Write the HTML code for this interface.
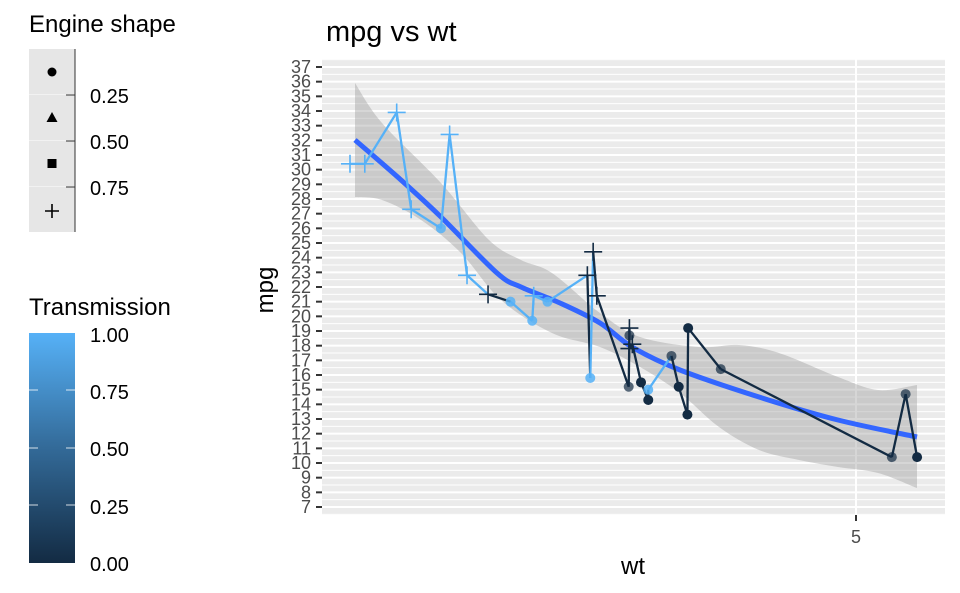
<!DOCTYPE html>
<html><head><meta charset="utf-8"><style>
html,body{margin:0;padding:0;background:#fff;}
svg{display:block;font-family:"Liberation Sans",Arial,sans-serif;}
</style></head><body>
<svg id="s" width="960" height="593" viewBox="0 0 960 593" xmlns="http://www.w3.org/2000/svg">
<defs>
<linearGradient id="cb" x1="0" y1="1" x2="0" y2="0">
<stop offset="0" stop-color="#132B43"/><stop offset="0.5" stop-color="#336A98"/><stop offset="1" stop-color="#56B1F7"/>
</linearGradient>
</defs>
<rect x="322" y="59" width="623" height="456" fill="#EBEBEB"/>
<g id="grid"></g>
<path id="rib" fill="#999" fill-opacity="0.4"/>
<path id="smo" fill="none" stroke="#3366FF" stroke-width="5"/>
<g id="marks"></g>
<g font-size="18" fill="#4D4D4D" text-anchor="end">
<text x="311" y="73">37</text><text x="311" y="87.7">36</text><text x="311" y="102.3">35</text><text x="311" y="117">34</text><text x="311" y="131.7">33</text><text x="311" y="146.3">32</text><text x="311" y="161">31</text><text x="311" y="175.7">30</text><text x="311" y="190.3">29</text><text x="311" y="205">28</text><text x="311" y="219.7">27</text><text x="311" y="234.3">26</text><text x="311" y="249">25</text><text x="311" y="263.7">24</text><text x="311" y="278.3">23</text><text x="311" y="293">22</text><text x="311" y="307.7">21</text><text x="311" y="322.3">20</text><text x="311" y="337">19</text><text x="311" y="351.7">18</text><text x="311" y="366.3">17</text><text x="311" y="381">16</text><text x="311" y="395.7">15</text><text x="311" y="410.3">14</text><text x="311" y="425">13</text><text x="311" y="439.7">12</text><text x="311" y="454.3">11</text><text x="311" y="469">10</text><text x="311" y="483.7">9</text><text x="311" y="498.3">8</text><text x="311" y="513">7</text>
</g>
<g id="ticks" stroke="#333" stroke-width="2"></g>
<line x1="856" y1="515" x2="856" y2="521" stroke="#333" stroke-width="2"/>
<text x="856" y="543" font-size="18" fill="#4D4D4D" text-anchor="middle">5</text>
<text x="633" y="574" font-size="24" fill="#000" text-anchor="middle">wt</text>
<text transform="translate(273,290) rotate(-90)" font-size="24" fill="#000" text-anchor="middle">mpg</text>
<text x="326" y="41" font-size="29" fill="#000">mpg vs wt</text>
<text x="29" y="32" font-size="24" fill="#000">Engine shape</text>
<rect x="29" y="49" width="46" height="183" fill="#E6E6E6"/>
<line x1="29" y1="94.5" x2="75" y2="94.5" stroke="#F2F2F2"/><line x1="29" y1="140.5" x2="75" y2="140.5" stroke="#F2F2F2"/><line x1="29" y1="186.5" x2="75" y2="186.5" stroke="#F2F2F2"/>
<line x1="75" y1="49" x2="75" y2="232" stroke="#333" stroke-width="1"/>
<g stroke="#333"><line x1="66" y1="95" x2="75" y2="95"/><line x1="66" y1="141" x2="75" y2="141"/><line x1="66" y1="187" x2="75" y2="187"/></g>
<circle cx="52" cy="72" r="4.5" fill="#000"/>
<polygon points="52,112 46.5,122 57.5,122" fill="#000"/>
<rect x="47.5" y="159" width="9" height="9" fill="#000"/>
<path d="M45,211 H59 M52,204 V218" stroke="#000" stroke-width="1.6"/>
<g font-size="20" fill="#000"><text x="90" y="103">0.25</text><text x="90" y="149">0.50</text><text x="90" y="195">0.75</text></g>
<text x="29" y="315" font-size="24" fill="#000">Transmission</text>
<rect x="29" y="333" width="46" height="230" fill="url(#cb)"/>
<g stroke="#fff" stroke-width="1" opacity="0.8">
<line x1="29" y1="390" x2="38" y2="390"/><line x1="66" y1="390" x2="75" y2="390"/>
<line x1="29" y1="448" x2="38" y2="448"/><line x1="66" y1="448" x2="75" y2="448"/>
<line x1="29" y1="505" x2="38" y2="505"/><line x1="66" y1="505" x2="75" y2="505"/>
</g>
<g font-size="20" fill="#000"><text x="90" y="342">1.00</text><text x="90" y="399">0.75</text><text x="90" y="456">0.50</text><text x="90" y="514">0.25</text><text x="90" y="571">0.00</text></g>
</svg>
<script>
(function(){
var NS="http://www.w3.org/2000/svg";
function X(w){return 350+(w-1.513)*145;}
function Y(m){return 67+(37-m)*14.667;}
function el(p,t,a){var e=document.createElementNS(NS,t);for(var k in a)e.setAttribute(k,a[k]);p.appendChild(e);return e;}
function cr(pts){var s="M"+pts[0][0]+","+pts[0][1];for(var i=0;i<pts.length-1;i++){var p0=pts[i>0?i-1:0],p1=pts[i],p2=pts[i+1],p3=pts[i+2<pts.length?i+2:i+1];
s+=" C"+(p1[0]+(p2[0]-p0[0])/6)+","+(p1[1]+(p2[1]-p0[1])/6)+" "+(p2[0]-(p3[0]-p1[0])/6)+","+(p2[1]-(p3[1]-p1[1])/6)+" "+p2[0]+","+p2[1];}return s;}
var up=[[355,83],[382,123],[441,183],[489,240],[521,260],[552,273],[600,313],[640,337],[699,347],[739,345],[779,353],[838,377],[878,390],[917,385]];
var lo=[[355,197],[382,200],[421,220],[461,253],[501,300],[552,333],[600,347],[640,367],[680,393],[719,427],[759,450],[799,460],[838,467],[878,473],[917,488]];
var lr=lo.slice().reverse();
document.getElementById("rib").setAttribute("d",cr(up)+" L"+cr(lr).slice(1)+" Z");
document.getElementById("smo").setAttribute("d",cr([[355,140],[401,180],[441,217],[497,273],[521,287],[560,303],[600,323],[632,347],[680,370],[759,397],[838,420],[917,437]]));
var g=document.getElementById("grid");
for(var v=6.5;v<=37.6;v+=0.5){var y=Y(v);if(y<59||y>515)continue;var maj=Math.abs(v-Math.round(v))<0.01;
el(g,"line",{x1:322,x2:945,y1:y,y2:y,stroke:"#fff","stroke-width":maj?2:1});}
el(g,"line",{x1:856,x2:856,y1:59,y2:515,stroke:"#fff","stroke-width":2});
var t=document.getElementById("ticks");
for(var v=7;v<=37;v++){el(t,"line",{x1:316,x2:322,y1:Y(v),y2:Y(v)});}
var d=[[1.513,30.4,1,1],[1.615,30.4,1,1],[1.835,33.9,1,1],[1.935,27.3,1,1],[2.14,26,1,0],[2.2,32.4,1,1],[2.32,22.8,1,1],[2.465,21.5,0,1],[2.62,21,1,0],[2.77,19.7,1,0],[2.78,21.4,1,1],[2.875,21,1,0],[3.15,22.8,0,1],[3.17,15.8,1,0],[3.19,24.4,0,1],[3.215,21.4,0,1],[3.435,15.2,0,0],[3.44,18.7,0,0],[3.44,19.2,0,1],[3.44,17.8,0,1],[3.46,18.1,0,1],[3.52,15.5,0,0],[3.57,14.3,0,0],[3.57,15,1,0],[3.73,17.3,0,0],[3.78,15.2,0,0],[3.84,13.3,0,0],[3.845,19.2,0,0],[4.07,16.4,0,0],[5.25,10.4,0,0],[5.345,14.7,0,0],[5.424,10.4,0,0]];
var m=document.getElementById("marks");
function col(a){return a?"#56B1F7":"#132B43";}
for(var i=0;i<d.length-1;i++){el(m,"line",{x1:X(d[i][0]),y1:Y(d[i][1]),x2:X(d[i+1][0]),y2:Y(d[i+1][1]),stroke:col(d[i][2]),"stroke-width":2.3});}
var grey={"3.435":1,"3.44,18.7":1,"3.73":1,"4.07":1,"5.25":1,"5.345":1};
for(var i=0;i<d.length;i++){var p=d[i],x=X(p[0]),y=Y(p[1]),c=col(p[2]);
if(p[3]){el(m,"path",{d:"M"+(x-9)+","+y+"H"+(x+9)+"M"+x+","+(y-9)+"V"+(y+9),stroke:c,"stroke-width":1.6});}
else{var op=(grey[""+p[0]]||grey[p[0]+","+p[1]])?0.7:(p[2]?0.85:1);el(m,"circle",{cx:x,cy:y,r:5,fill:c,"fill-opacity":op});}}
})();
</script>
</body></html>
